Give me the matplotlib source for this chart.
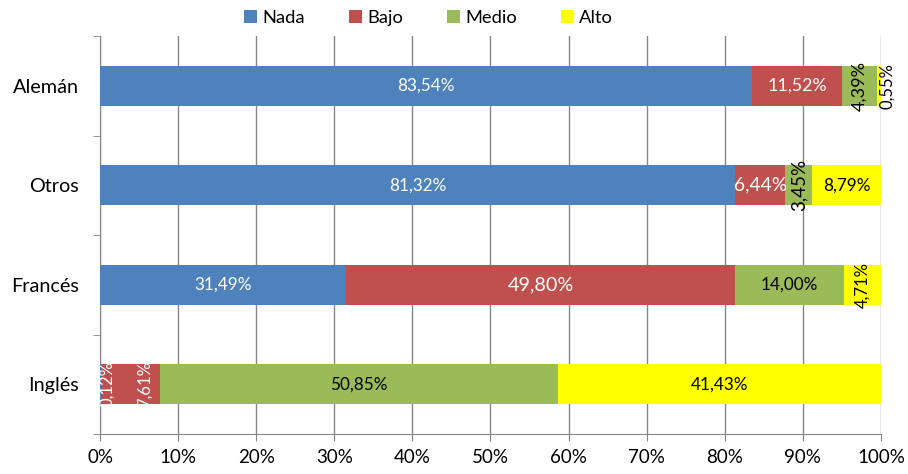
import numpy as np
import matplotlib.pyplot as plt
from matplotlib.patches import Patch

# data (percent of each level per language)
idiomas = ["Alemán", "Otros", "Francés", "Inglés"]
niveles = ["Nada", "Bajo", "Medio", "Alto"]
nada = [83.54, 81.32, 31.49, 0.12]
bajo = [11.52, 6.44, 49.80, 7.61]
medio = [4.39, 3.45, 14.00, 50.85]
alto = [0.55, 8.79, 4.71, 41.43]
xticks = [0, 10, 20, 30, 40, 50, 60, 70, 80, 90, 100]

colores = ["#4F81BD", "#C0504D", "#9BBB59", "#FFFF00"]

plt.rcParams["font.family"] = ["Lato", "DejaVu Sans"]

fig = plt.figure(figsize=(9.08, 4.74), dpi=100)
ax = fig.add_axes([100 / 908, 40 / 474, 781 / 908, 398 / 474])

series = [nada, bajo, medio, alto]
y = np.arange(len(idiomas))[::-1]
left = np.zeros(len(idiomas))
for vals, col in zip(series, colores):
    ax.barh(y, vals, left=left, height=0.4, color=col, zorder=3)
    left = left + np.array(vals)

# label styles: (color, size, rotation, x offset in pts) per series/row
estilo = {
    (0, 0): ("white", 12.3, 0, 0), (1, 0): ("white", 12.8, 0, 0),
    (2, 0): ("black", 13, 90, 0), (3, 0): ("black", 12, 90, 6),
    (0, 1): ("white", 12.3, 0, 0), (1, 1): ("white", 13.8, 0, 0),
    (2, 1): ("black", 13.5, 90, 0), (3, 1): ("black", 12.3, 0, 0),
    (0, 2): ("white", 12.3, 0, 0), (1, 2): ("white", 14.2, 0, 0),
    (2, 2): ("black", 12.3, 0, 0), (3, 2): ("black", 12, 90, 0),
    (0, 3): ("white", 12, 90, 5), (1, 3): ("white", 12, 90, 10),
    (2, 3): ("black", 12.3, 0, 0), (3, 3): ("black", 12.3, 0, 0),
}

left = np.zeros(len(idiomas))
for s, vals in enumerate(series):
    for i, v in enumerate(vals):
        c, fs, rot, dx = estilo[(s, i)]
        t = ax.annotate(f"{v:.2f}%".replace(".", ","),
                        (left[i] + v / 2, y[i]), xytext=(dx, 0),
                        textcoords="offset points", ha="center", va="center",
                        color=c, fontsize=fs, rotation=rot, zorder=5,
                        annotation_clip=False)
        if (s, i) == (0, 3):
            t.set_clip_on(True)
    left = left + np.array(vals)

ax.set_xlim(0, 100)
ax.set_ylim(-0.5, 3.5)
ax.set_xticks(xticks)
ax.set_xticklabels([f"{v}%" for v in xticks], fontsize=13.5)
ax.set_yticks(y)
ax.set_yticklabels(idiomas, fontsize=14.3)
ax.set_yticks(np.arange(-0.5, 4, 1), minor=True)
ax.tick_params(axis="y", which="major", length=0, pad=15)
ax.tick_params(axis="y", which="minor", length=5, color="#868686")
ax.tick_params(axis="x", length=5, color="#868686", pad=6)

ax.grid(axis="x", color="#868686", linewidth=1, zorder=0)
for side in ["top", "right"]:
    ax.spines[side].set_visible(False)
for side in ["left", "bottom"]:
    ax.spines[side].set_color("#868686")

handles = [Patch(facecolor=c, label=n) for c, n in zip(colores, niveles)]
fig.legend(handles=handles, loc="center", bbox_to_anchor=(0.472, 0.962),
           ncol=4, frameon=False, fontsize=13.2, handlelength=0.7,
           handleheight=0.7, handletextpad=0.3, columnspacing=2.4)

fig.savefig("out.png", dpi=100)
